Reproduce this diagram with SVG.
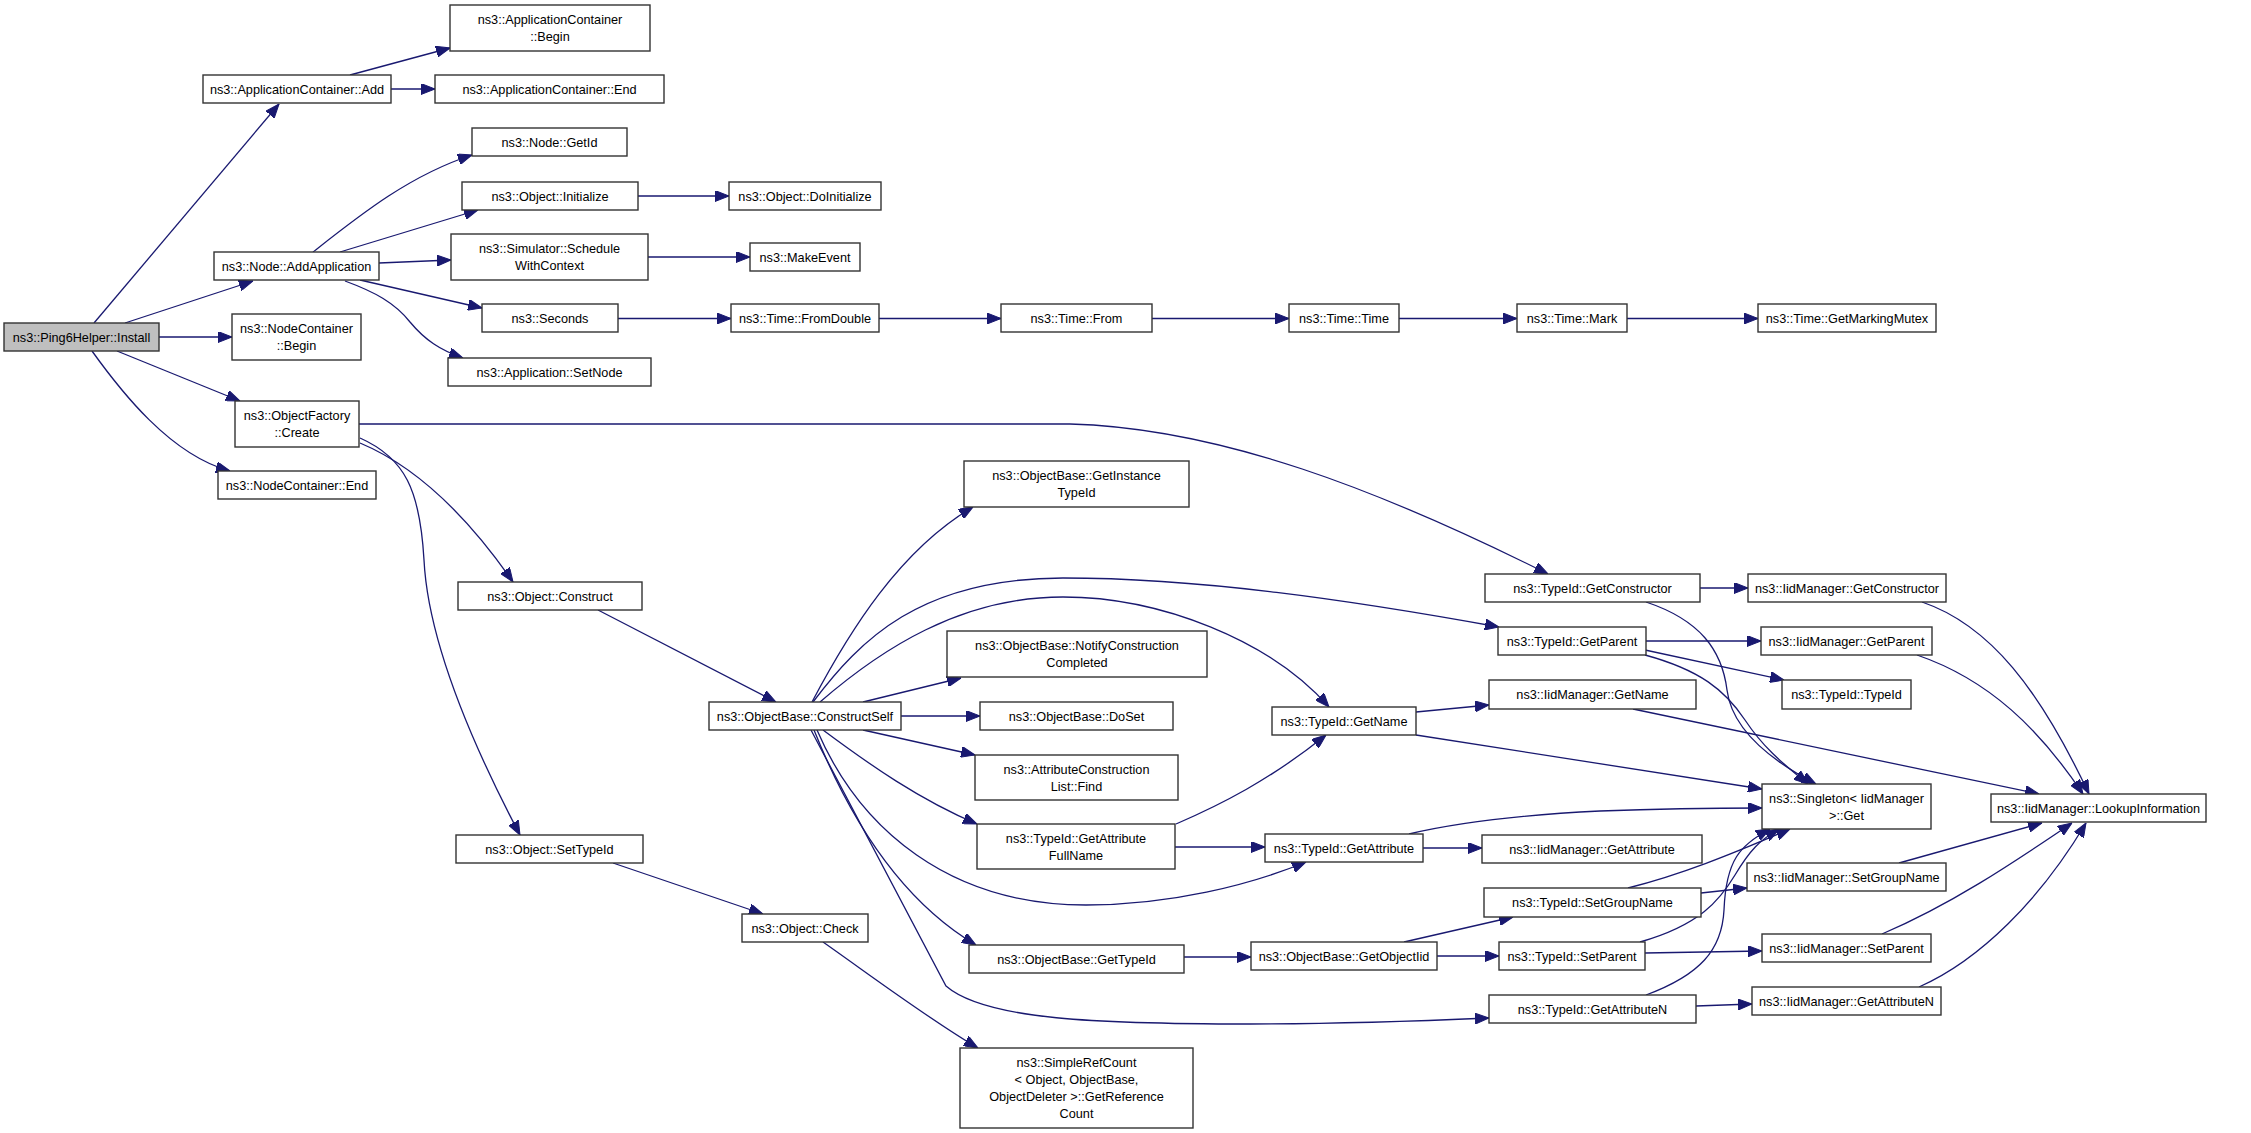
<svg xmlns="http://www.w3.org/2000/svg" width="2251" height="1133" viewBox="0 0 2251 1133">
<style>
.n rect{fill:#fff;stroke:#333;stroke-width:1.4}
.root rect{fill:#bfbfbf}
text{font-family:"Liberation Sans",Arial,sans-serif;font-size:12.7px;fill:#000;text-anchor:middle}
.e path{fill:none;stroke:#191970;stroke-width:1.3;marker-end:url(#a)}
</style>
<defs>
<marker id="a" viewBox="0 0 14 11" refX="14" refY="5.5" markerWidth="14" markerHeight="11" markerUnits="userSpaceOnUse" orient="auto">
<path d="M0,0 L14,5.5 L0,11 z" fill="#191970" stroke="#191970" stroke-width="1"/>
</marker>
</defs>
<rect width="2251" height="1133" fill="#fff"/>
<g id="edges" class="e">
<path d="M94,323 L279,104"/>
<path d="M125,323 L253,281"/>
<path d="M159,337 L232,337"/>
<path d="M117,351 L240,401"/>
<path d="M92,351 C120,390 170,455 230,471"/>
<path d="M350,75 L450,48"/>
<path d="M391,89 L435,89"/>
<path d="M313,252 C360,215 410,175 472,155"/>
<path d="M340,252 L478,210"/>
<path d="M379,263 L451,260"/>
<path d="M360,280 L482,308"/>
<path d="M345,281 C375,292 395,303 410,322 C425,340 440,350 463,358"/>
<path d="M648,257 L750,257"/>
<path d="M638,196 L729,196"/>
<path d="M618,318.5 L731,318.5"/>
<path d="M879,318.5 L1001,318.5"/>
<path d="M1152,318.5 L1289,318.5"/>
<path d="M1399,318.5 L1517,318.5"/>
<path d="M1627,318.5 L1758,318.5"/>
<path d="M359,424 L1070,424 C1220,428 1380,490 1548,574"/>
<path d="M360,443 C420,468 470,520 513,582"/>
<path d="M360,438 C405,458 420,490 424,560 C428,640 470,740 520,835"/>
<path d="M598,610 L776,702"/>
<path d="M613,863 L763,914"/>
<path d="M823,942 C870,975 930,1020 978,1048"/>
<path d="M812,702 C850,630 900,550 973,507"/>
<path d="M813,702 C860,640 920,578 1063,578 C1200,578 1350,600 1499,627"/>
<path d="M820,702 C880,650 960,597 1063,597 C1160,597 1270,640 1329,707"/>
<path d="M863,702 L961,678"/>
<path d="M901,716 L980,716"/>
<path d="M863,730 L975,755"/>
<path d="M823,730 C870,765 920,800 977,824"/>
<path d="M817,730 C860,830 950,905 1086,905 C1170,905 1250,885 1306,862"/>
<path d="M814,730 C850,820 900,900 976,945"/>
<path d="M811,730 L946,986 C985,1020 1100,1024 1250,1024 C1350,1024 1420,1021 1489,1018"/>
<path d="M1176,824 C1220,805 1270,780 1326,735"/>
<path d="M1175,847 L1265,847"/>
<path d="M1416,712 L1489,705"/>
<path d="M1416,735 L1762,789"/>
<path d="M1633,709 L2039,794"/>
<path d="M1700,588 L1748,588"/>
<path d="M1646,602 C1700,620 1722,650 1727,690 C1732,730 1770,760 1816,784"/>
<path d="M1645,655 C1700,670 1725,690 1745,720 C1765,750 1785,765 1808,784"/>
<path d="M1646,641 L1761,641"/>
<path d="M1645,650 L1784,680"/>
<path d="M1922,602 C1990,625 2040,690 2089,794"/>
<path d="M1917,655 C1990,680 2040,730 2083,794"/>
<path d="M1423,848 L1482,848"/>
<path d="M1409,834 C1460,822 1520,815 1600,811 C1680,808 1730,808 1762,808"/>
<path d="M1184,957 L1251,957"/>
<path d="M1404,942 L1513,917"/>
<path d="M1437,956 L1499,956"/>
<path d="M1628,888 C1680,875 1730,855 1790,829"/>
<path d="M1701,893 L1747,888"/>
<path d="M1640,942 C1700,925 1720,900 1735,875 C1750,850 1760,840 1779,829"/>
<path d="M1645,953 L1762,951"/>
<path d="M1646,995 C1700,975 1722,950 1724,910 C1726,860 1740,845 1770,829"/>
<path d="M1696,1006 L1752,1004"/>
<path d="M1899,863 L2042,823"/>
<path d="M1882,934 C1950,905 2010,865 2072,823"/>
<path d="M1919,987 C1980,960 2040,900 2086,823"/>
</g>
<g id="n1" class="n root"><rect x="4" y="323" width="155" height="28"/><text x="81.5" y="341.5">ns3::Ping6Helper::Install</text></g>
<g id="n2" class="n"><rect x="203" y="75" width="188" height="28"/><text x="297" y="93.5">ns3::ApplicationContainer::Add</text></g>
<g id="n3" class="n"><rect x="450" y="5" width="200" height="46"/><text x="550" y="24">ns3::ApplicationContainer</text><text x="550" y="41">::Begin</text></g>
<g id="n4" class="n"><rect x="435" y="75" width="229" height="28"/><text x="549.5" y="93.5">ns3::ApplicationContainer::End</text></g>
<g id="n5" class="n"><rect x="472" y="128" width="155" height="28"/><text x="549.5" y="146.5">ns3::Node::GetId</text></g>
<g id="n6" class="n"><rect x="462" y="182" width="176" height="28"/><text x="550" y="200.5">ns3::Object::Initialize</text></g>
<g id="n7" class="n"><rect x="451" y="234" width="197" height="46"/><text x="549.5" y="253">ns3::Simulator::Schedule</text><text x="549.5" y="270">WithContext</text></g>
<g id="n8" class="n"><rect x="482" y="304" width="136" height="28"/><text x="550" y="322.5">ns3::Seconds</text></g>
<g id="n9" class="n"><rect x="448" y="358" width="203" height="28"/><text x="549.5" y="376.5">ns3::Application::SetNode</text></g>
<g id="n10" class="n"><rect x="214" y="252" width="165" height="28"/><text x="296.5" y="270.5">ns3::Node::AddApplication</text></g>
<g id="n11" class="n"><rect x="232" y="314" width="129" height="46"/><text x="296.5" y="333">ns3::NodeContainer</text><text x="296.5" y="350">::Begin</text></g>
<g id="n12" class="n"><rect x="235" y="401" width="124" height="46"/><text x="297" y="420">ns3::ObjectFactory</text><text x="297" y="437">::Create</text></g>
<g id="n13" class="n"><rect x="218" y="471" width="158" height="28"/><text x="297" y="489.5">ns3::NodeContainer::End</text></g>
<g id="n14" class="n"><rect x="729" y="182" width="152" height="28"/><text x="805" y="200.5">ns3::Object::DoInitialize</text></g>
<g id="n15" class="n"><rect x="750" y="243" width="110" height="28"/><text x="805" y="261.5">ns3::MakeEvent</text></g>
<g id="n16" class="n"><rect x="731" y="304" width="148" height="28"/><text x="805" y="322.5">ns3::Time::FromDouble</text></g>
<g id="n17" class="n"><rect x="1001" y="304" width="151" height="28"/><text x="1076.5" y="322.5">ns3::Time::From</text></g>
<g id="n18" class="n"><rect x="1289" y="304" width="110" height="28"/><text x="1344" y="322.5">ns3::Time::Time</text></g>
<g id="n19" class="n"><rect x="1517" y="304" width="110" height="28"/><text x="1572" y="322.5">ns3::Time::Mark</text></g>
<g id="n20" class="n"><rect x="1758" y="304" width="178" height="28"/><text x="1847" y="322.5">ns3::Time::GetMarkingMutex</text></g>
<g id="n21" class="n"><rect x="458" y="582" width="184" height="28"/><text x="550" y="600.5">ns3::Object::Construct</text></g>
<g id="n22" class="n"><rect x="456" y="835" width="187" height="28"/><text x="549.5" y="853.5">ns3::Object::SetTypeId</text></g>
<g id="n23" class="n"><rect x="964" y="461" width="225" height="46"/><text x="1076.5" y="480">ns3::ObjectBase::GetInstance</text><text x="1076.5" y="497">TypeId</text></g>
<g id="n24" class="n"><rect x="947" y="631" width="260" height="46"/><text x="1077" y="650">ns3::ObjectBase::NotifyConstruction</text><text x="1077" y="667">Completed</text></g>
<g id="n25" class="n"><rect x="709" y="702" width="192" height="28"/><text x="805" y="720.5">ns3::ObjectBase::ConstructSelf</text></g>
<g id="n26" class="n"><rect x="980" y="702" width="193" height="28"/><text x="1076.5" y="720.5">ns3::ObjectBase::DoSet</text></g>
<g id="n27" class="n"><rect x="975" y="755" width="203" height="45"/><text x="1076.5" y="773.5">ns3::AttributeConstruction</text><text x="1076.5" y="790.5">List::Find</text></g>
<g id="n28" class="n"><rect x="977" y="824" width="198" height="45"/><text x="1076" y="842.5">ns3::TypeId::GetAttribute</text><text x="1076" y="859.5">FullName</text></g>
<g id="n29" class="n"><rect x="969" y="945" width="215" height="28"/><text x="1076.5" y="963.5">ns3::ObjectBase::GetTypeId</text></g>
<g id="n30" class="n"><rect x="742" y="914" width="126" height="28"/><text x="805" y="932.5">ns3::Object::Check</text></g>
<g id="n31" class="n"><rect x="960" y="1048" width="233" height="80"/><text x="1076.5" y="1066.5">ns3::SimpleRefCount</text><text x="1076.5" y="1083.5">&lt; Object, ObjectBase,</text><text x="1076.5" y="1100.5">ObjectDeleter &gt;::GetReference</text><text x="1076.5" y="1117.5">Count</text></g>
<g id="n32" class="n"><rect x="1485" y="574" width="215" height="28"/><text x="1592.5" y="592.5">ns3::TypeId::GetConstructor</text></g>
<g id="n33" class="n"><rect x="1498" y="627" width="148" height="28"/><text x="1572" y="645.5">ns3::TypeId::GetParent</text></g>
<g id="n34" class="n"><rect x="1489" y="680" width="207" height="29"/><text x="1592.5" y="699">ns3::IidManager::GetName</text></g>
<g id="n35" class="n"><rect x="1272" y="707" width="144" height="28"/><text x="1344" y="725.5">ns3::TypeId::GetName</text></g>
<g id="n36" class="n"><rect x="1748" y="574" width="198" height="28"/><text x="1847" y="592.5">ns3::IidManager::GetConstructor</text></g>
<g id="n37" class="n"><rect x="1761" y="627" width="171" height="28"/><text x="1846.5" y="645.5">ns3::IidManager::GetParent</text></g>
<g id="n38" class="n"><rect x="1782" y="680" width="129" height="29"/><text x="1846.5" y="699">ns3::TypeId::TypeId</text></g>
<g id="n39" class="n"><rect x="1265" y="834" width="158" height="28"/><text x="1344" y="852.5">ns3::TypeId::GetAttribute</text></g>
<g id="n40" class="n"><rect x="1482" y="835" width="220" height="28"/><text x="1592" y="853.5">ns3::IidManager::GetAttribute</text></g>
<g id="n41" class="n"><rect x="1484" y="888" width="217" height="29"/><text x="1592.5" y="907">ns3::TypeId::SetGroupName</text></g>
<g id="n42" class="n"><rect x="1251" y="942" width="186" height="28"/><text x="1344" y="960.5">ns3::ObjectBase::GetObjectIid</text></g>
<g id="n43" class="n"><rect x="1499" y="942" width="146" height="28"/><text x="1572" y="960.5">ns3::TypeId::SetParent</text></g>
<g id="n44" class="n"><rect x="1489" y="995" width="207" height="28"/><text x="1592.5" y="1013.5">ns3::TypeId::GetAttributeN</text></g>
<g id="n45" class="n"><rect x="1762" y="784" width="169" height="45"/><text x="1846.5" y="802.5">ns3::Singleton&lt; IidManager</text><text x="1846.5" y="819.5">&gt;::Get</text></g>
<g id="n46" class="n"><rect x="1991" y="794" width="215" height="28"/><text x="2098.5" y="812.5">ns3::IidManager::LookupInformation</text></g>
<g id="n47" class="n"><rect x="1747" y="863" width="199" height="28"/><text x="1846.5" y="881.5">ns3::IidManager::SetGroupName</text></g>
<g id="n48" class="n"><rect x="1762" y="934" width="169" height="28"/><text x="1846.5" y="952.5">ns3::IidManager::SetParent</text></g>
<g id="n49" class="n"><rect x="1752" y="987" width="189" height="28"/><text x="1846.5" y="1005.5">ns3::IidManager::GetAttributeN</text></g>
</svg>
